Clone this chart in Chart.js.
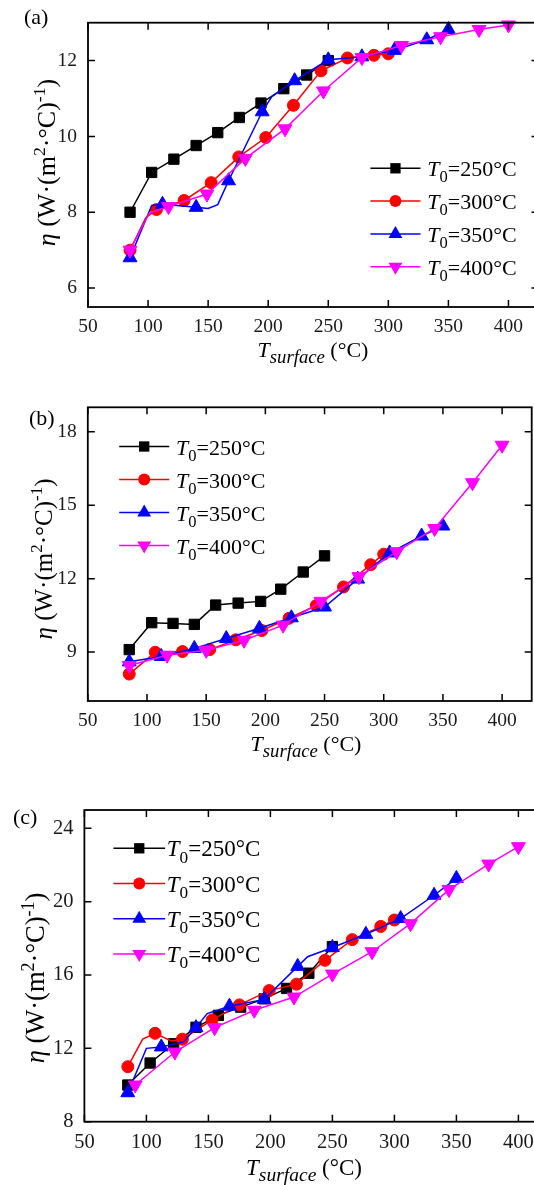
<!DOCTYPE html>
<html>
<head>
<meta charset="utf-8">
<script src="https://cdn.jsdelivr.net/npm/chart.js@4.4.0/dist/chart.umd.min.js"></script>
<style>
  html, body { margin: 0; padding: 0; background: #fff; overflow: hidden; }
  body { width: 534px; height: 1185px; position: relative; }
  canvas { position: absolute; left: 0; }
</style>
</head>
<body>
<canvas id="chartA" width="560" height="380" style="top:0px"></canvas>
<canvas id="chartB" width="560" height="400" style="top:380px"></canvas>
<canvas id="chartC" width="560" height="405" style="top:780px"></canvas>
<script>
// ---- data ----
const t0Labels = ['250', '300', '350', '400'];
const xTicks = [50, 100, 150, 200, 250, 300, 350, 400];
const aYTicks = [6, 8, 10, 12];
const bYTicks = [9, 12, 15, 18];
const cYTicks = [8, 12, 16, 20, 24];

// (a)
const aX250 = [85, 103, 121.5, 140, 158, 176, 194, 213, 232, 250];
const aY250 = [8.0, 9.05, 9.4, 9.76, 10.1, 10.5, 10.88, 11.26, 11.62, 12.0];
const aX300 = [85, 107, 130, 152.5, 175.5, 198, 221, 244, 266, 288, 300];
const aY300 = [7.0, 8.07, 8.31, 8.78, 9.46, 9.97, 10.82, 11.73, 12.07, 12.14, 12.18];
const aX350 = [85, 112, 140, 167, 195, 222, 250, 278, 305, 332, 350];
const aY350 = [6.8, 8.21, 8.13, 8.83, 10.65, 11.47, 12.02, 12.1, 12.27, 12.55, 12.82];
const aX400 = [85, 117, 149, 181, 214, 246, 278, 311, 343.5, 375.5, 400];
const aY400 = [7.0, 8.15, 8.48, 9.42, 10.2, 11.2, 12.08, 12.4, 12.63, 12.82, 12.94];
// line-only points between markers
const aK300x = [98], aK300y = [7.85];
const aK350x = [103, 150, 158, 203], aK350y = [8.18, 8.1, 8.2, 11.05];
const aK400x = [101], aK400y = [7.98];

// (b)
const bX250 = [85, 104, 122, 140, 158, 177, 196, 213, 232, 250];
const bY250 = [9.1, 10.2, 10.17, 10.13, 10.92, 11.0, 11.07, 11.57, 12.27, 12.93];
const bX300 = [85, 107, 130, 153, 175, 197, 220, 243, 266, 289, 300];
const bY300 = [8.1, 8.99, 9.02, 9.1, 9.5, 9.88, 10.38, 10.9, 11.66, 12.57, 13.0];
const bX350 = [85, 112, 140, 167, 195, 222, 250, 278, 305, 332, 350];
const bY350 = [8.6, 8.82, 9.15, 9.55, 9.97, 10.4, 10.84, 11.98, 13.05, 13.74, 14.15];
const bX400 = [85, 117, 150, 182, 215, 247, 279, 311, 343, 375, 400];
const bY400 = [8.45, 8.87, 9.07, 9.48, 10.1, 11.07, 12.08, 13.1, 14.05, 15.92, 17.45];

// (c)
const cX250 = [85, 103, 122, 140, 158, 176, 195, 213, 231, 250];
const cY250 = [10.0, 11.2, 12.25, 13.15, 13.8, 14.25, 14.7, 15.27, 16.1, 17.55];
const cX300 = [85, 107, 129, 153, 175, 199, 221, 244, 266, 289, 300];
const cY300 = [11.0, 12.82, 12.5, 13.55, 14.37, 15.15, 15.5, 16.8, 17.93, 18.65, 19.0];
const cX350 = [85, 112, 140, 167, 195, 222, 250, 277, 305, 332, 350];
const cY350 = [9.58, 12.08, 13.13, 14.3, 14.67, 16.47, 17.5, 18.22, 19.08, 20.35, 21.27];
const cX400 = [91, 123, 155, 187, 219, 250, 282, 313, 344, 376, 400];
const cY400 = [10.0, 11.8, 13.13, 14.08, 14.8, 16.05, 17.27, 18.8, 20.66, 22.05, 23.0];
const cK300x = [97, 120], cK300y = [12.5, 12.4];
const cK350x = [100, 130, 149, 230], cK350y = [12.0, 12.35, 13.9, 17.0];

// ---- styles / layout ----
const FONT = '"Liberation Serif", "Times New Roman", serif';
const looks = [
    { color: '#000000', style: 'rect', rot: 0, r: 7.3 },
    { color: '#ff0000', style: 'circle', rot: 0, r: 6 },
    { color: '#0000ff', style: 'triangle', rot: 0, r: 8 },
    { color: '#ff00ff', style: 'triangle', rot: 180, r: 8 }
];

const panels = [
    {
        id: 'chartA', tag: '(a)', yMin: 5.5, yMax: 13, yTicks: aYTicks,
        series: [[aX250, aY250, [], []], [aX300, aY300, aK300x, aK300y],
                 [aX350, aY350, aK350x, aK350y], [aX400, aY400, aK400x, aK400y]],
        box: { h: 380, top: 11.6, bottom: 307, left: 88, right: 538.5 },
        tickFont: 19.5, tickPad: 8.5, yPad: 11,
        legend: { x1: 370.4, x2: 420.5, tx: 427.3, y0: 168.3, dy: 32.8, size: 22 },
        tagPos: [24, 24], xTitle: [313, 357, 22], yTitle: [55, 162.5, 26]
    },
    {
        id: 'chartB', tag: '(b)', yMin: 7, yMax: 19, yTicks: bYTicks,
        series: [[bX250, bY250, [], []], [bX300, bY300, [], []],
                 [bX350, bY350, [], []], [bX400, bY400, [], []]],
        box: { h: 400, top: 27.3, bottom: 321, left: 87.8, right: 531.7 },
        tickFont: 19.5, tickPad: 8.5, yPad: 11,
        legend: { x1: 119.2, x2: 169.2, tx: 176, y0: 66.5, dy: 33, size: 22 },
        tagPos: [29, 45], xTitle: [306, 371, 22], yTitle: [52, 179, 25]
    },
    {
        id: 'chartC', tag: '(c)', yMin: 8, yMax: 25, yTicks: cYTicks,
        series: [[cX250, cY250, [], []], [cX300, cY300, cK300x, cK300y],
                 [cX350, cY350, cK350x, cK350y], [cX400, cY400, [], []]],
        box: { h: 405, top: 30, bottom: 341.7, left: 84.4, right: 549.4 },
        tickFont: 20.5, tickPad: 9, yPad: 11,
        legend: { x1: 113.4, x2: 165.1, tx: 166.8, y0: 68.3, dy: 35.2, size: 23 },
        tagPos: [13, 44], xTitle: [304, 395, 23], yTitle: [44.3, 198, 26.5]
    }
];

function pts(xs, ys) {
    return xs.map((x, i) => ({ x: x, y: ys[i] }));
}

// mixed italic / sub / sup text on the canvas
function rich(ctx, parts, x, y, size, align, subScale) {
    const sc = subScale || 0.7;
    const items = parts.map(([t, st]) => {
        const small = st === 'sub' || st === 'sup' || st === 'isub';
        const it = st === 'i' || st === 'isub';
        const fs = small ? size * sc : size;
        const font = (it ? 'italic ' : '') + fs + 'px ' + FONT;
        ctx.font = font;
        const dy = st === 'sup' ? -size * 0.4 : (small ? size * 0.28 : 0);
        return { t, font, w: ctx.measureText(t).width, dy };
    });
    const total = items.reduce((s, i) => s + i.w, 0);
    let cx = align === 'center' ? x - total / 2 : x;
    ctx.textAlign = 'left';
    ctx.textBaseline = 'alphabetic';
    items.forEach(i => {
        ctx.font = i.font;
        ctx.fillText(i.t, cx, y + i.dy);
        cx += i.w;
    });
}

function drawMark(ctx, lk, x, y) {
    ctx.beginPath();
    if (lk.style === 'rect') {
        const s = 2 * lk.r * Math.SQRT1_2;
        ctx.rect(x - s / 2, y - s / 2, s, s);
    } else if (lk.style === 'circle') {
        ctx.arc(x, y, lk.r, 0, Math.PI * 2);
    } else {
        let rad = lk.rot * Math.PI / 180;
        for (let k = 0; k < 3; k++) {
            const px = x + Math.sin(rad) * lk.r, py = y - Math.cos(rad) * lk.r;
            if (k === 0) ctx.moveTo(px, py); else ctx.lineTo(px, py);
            rad += Math.PI * 2 / 3;
        }
        ctx.closePath();
    }
    ctx.fill();
}

function makeDecor(p) {
    return {
        id: 'decor_' + p.id,
        afterDraw(chart) {
            const { ctx, chartArea: a } = chart;
            const xs = chart.scales.x, ys = chart.scales.y;
            ctx.save();
            // frame + inward ticks on all sides
            ctx.strokeStyle = '#000';
            ctx.lineWidth = 1.8;
            ctx.strokeRect(a.left, a.top, a.right - a.left, a.bottom - a.top);
            ctx.lineWidth = 1.5;
            ctx.beginPath();
            xTicks.forEach(v => {
                const px = xs.getPixelForValue(v);
                ctx.moveTo(px, a.bottom); ctx.lineTo(px, a.bottom - 7);
                ctx.moveTo(px, a.top); ctx.lineTo(px, a.top + 7);
            });
            p.yTicks.forEach(v => {
                const py = ys.getPixelForValue(v);
                ctx.moveTo(a.left, py); ctx.lineTo(a.left + 7, py);
                ctx.moveTo(a.right, py); ctx.lineTo(a.right - 7, py);
            });
            ctx.stroke();

            ctx.fillStyle = '#000';
            // panel tag
            ctx.font = '22px ' + FONT;
            ctx.textAlign = 'left';
            ctx.textBaseline = 'alphabetic';
            ctx.fillText(p.tag, p.tagPos[0], p.tagPos[1]);

            // x title
            rich(ctx, [['T', 'i'], ['surface', 'isub'], [' (°C)', '']],
                 p.xTitle[0], p.xTitle[1], p.xTitle[2], 'center', 0.85);

            // y title
            ctx.save();
            ctx.translate(p.yTitle[0], p.yTitle[1]);
            ctx.rotate(-Math.PI / 2);
            rich(ctx, [['η', 'i'], [' (W·(m', ''], ['2', 'sup'], ['·°C)', ''], ['-1', 'sup'], [')', '']],
                 0, 0, p.yTitle[2], 'center', 0.68);
            ctx.restore();

            // legend
            const L = p.legend;
            looks.forEach((lk, i) => {
                const y = L.y0 + i * L.dy;
                ctx.strokeStyle = lk.color;
                ctx.fillStyle = lk.color;
                ctx.lineWidth = 1.5;
                ctx.beginPath();
                ctx.moveTo(L.x1, y); ctx.lineTo(L.x2, y);
                ctx.stroke();
                drawMark(ctx, lk, (L.x1 + L.x2) / 2, y);
                ctx.fillStyle = '#000';
                rich(ctx, [['T', 'i'], ['0', 'sub'], ['=' + t0Labels[i] + '°C', '']],
                     L.tx, y + 8, L.size, 'left', 0.75);
            });
            ctx.restore();
        }
    };
}

panels.forEach(p => {
    const datasets = [];
    p.series.forEach((s, k) => {
        const lk = looks[k];
        const marks = pts(s[0], s[1]);
        const path = marks.concat(pts(s[2], s[3])).sort((u, v) => u.x - v.x);
        datasets.push({
            data: path, showLine: true, pointRadius: 0, pointHoverRadius: 0,
            borderColor: lk.color, borderWidth: 1.5, fill: false, order: 8 - 2 * k
        });
        datasets.push({
            data: marks, showLine: false, pointStyle: lk.style, rotation: lk.rot,
            pointRadius: lk.r, pointHoverRadius: lk.r,
            backgroundColor: lk.color, borderColor: lk.color, borderWidth: 1,
            order: 7 - 2 * k, clip: false
        });
    });

    new Chart(document.getElementById(p.id), {
        type: 'scatter',
        data: { datasets: datasets },
        options: {
            responsive: false,
            animation: false,
            devicePixelRatio: 1,
            layout: { padding: { top: p.box.top, right: 560 - p.box.right, left: 0, bottom: 0 } },
            plugins: { legend: { display: false }, tooltip: { enabled: false } },
            scales: {
                x: {
                    type: 'linear', min: 50, max: 425,
                    grid: { display: false, drawTicks: false },
                    border: { display: false },
                    ticks: {
                        font: { family: FONT, size: p.tickFont }, color: '#1a1a1a',
                        padding: p.tickPad, maxRotation: 0, autoSkip: false,
                        callback: v => String(v)
                    },
                    afterBuildTicks: sc => { sc.ticks = xTicks.map(v => ({ value: v })); },
                    afterFit: sc => { sc.height = p.box.h - p.box.bottom; }
                },
                y: {
                    type: 'linear', min: p.yMin, max: p.yMax,
                    grid: { display: false, drawTicks: false },
                    border: { display: false },
                    ticks: {
                        font: { family: FONT, size: p.tickFont }, color: '#1a1a1a',
                        padding: p.yPad, autoSkip: false,
                        callback: v => String(v)
                    },
                    afterBuildTicks: sc => { sc.ticks = p.yTicks.map(v => ({ value: v })); },
                    afterFit: sc => { sc.width = p.box.left; }
                }
            }
        },
        plugins: [makeDecor(p)]
    });
});
</script>
</body>
</html>
